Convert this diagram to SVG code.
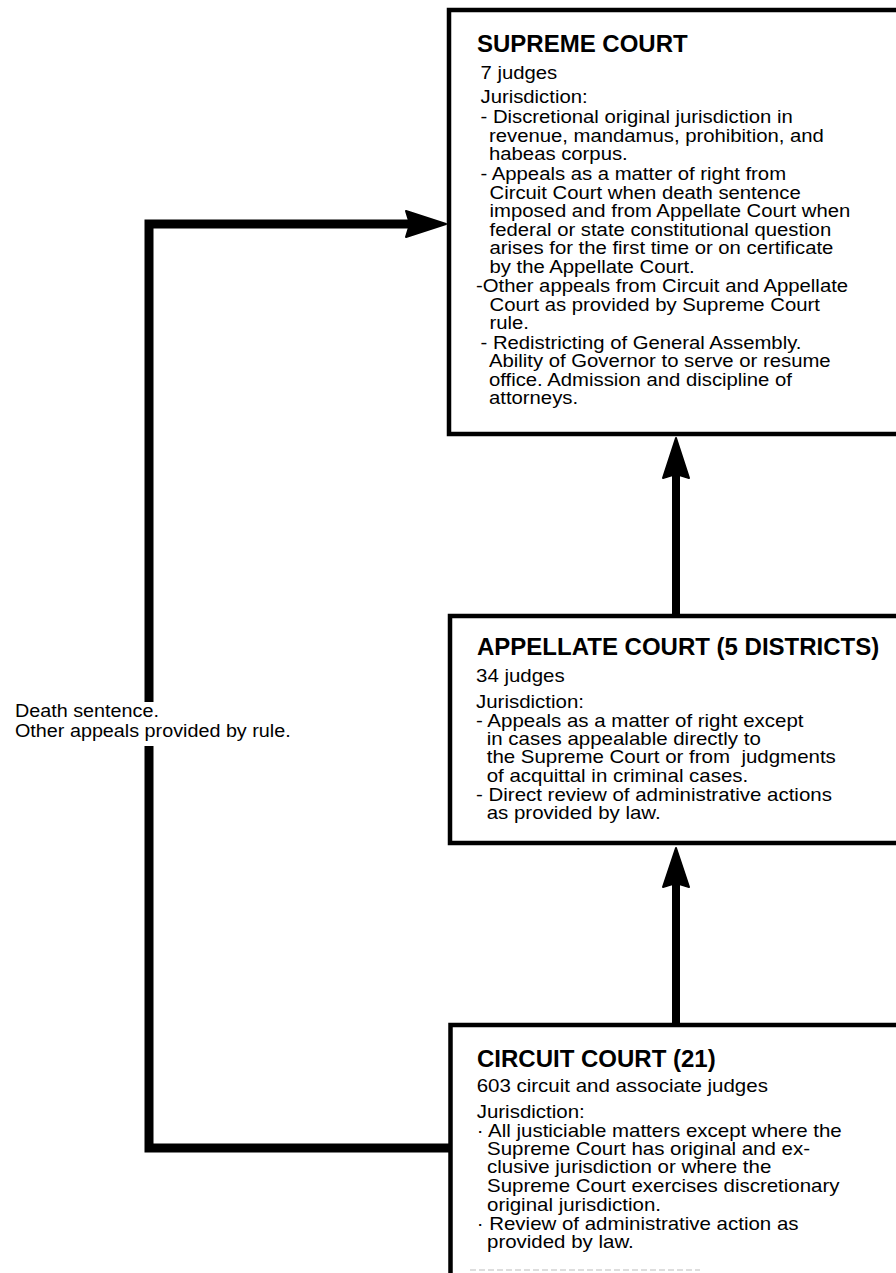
<svg xmlns="http://www.w3.org/2000/svg" width="896" height="1273" viewBox="0 0 896 1273">
<style>
.box{fill:#fff;stroke:#000;stroke-width:4.5}
.ttl{font-family:"Liberation Sans",Arial,sans-serif;font-weight:bold;font-size:24px;fill:#000}
.t{font-family:"Liberation Sans",Arial,sans-serif;font-size:17.5px;fill:#000}
.conn{fill:none;stroke:#000;stroke-width:9;stroke-linejoin:miter}
.shaft{fill:none;stroke:#000;stroke-width:8}
.head{fill:#000;stroke:#000;stroke-width:2;stroke-linejoin:round}
</style>
<rect width="896" height="1273" fill="#fff"/>
<g id="connectors">
  <path class="conn" d="M451 1148 H149 V746"/>
  <path class="conn" d="M149 702 V224 H412"/>
  <polygon class="head" points="406,211 446,224 406,237 410,224"/>
  <line class="shaft" x1="676" y1="614" x2="676" y2="472"/>
  <polygon class="head" points="676,438 689,478 676,474 663,478"/>
  <line class="shaft" x1="676" y1="1023" x2="676" y2="882"/>
  <polygon class="head" points="676,848 689,887 676,883 663,887"/>
</g>
<g id="label">
  <text class="t" transform="translate(15 717.3) scale(1.13 1)">Death sentence.</text>
  <text class="t" transform="translate(15 736.7) scale(1.13 1)">Other appeals provided by rule.</text>
</g>
<g id="supreme">
  <rect class="box" x="449" y="10" width="470" height="424"/>
  <text class="ttl" x="477" y="52">SUPREME COURT</text>
  <text class="t" transform="translate(480.5 79) scale(1.16 1)">7 judges</text>
  <text class="t" transform="translate(480.5 103) scale(1.16 1)">Jurisdiction:</text>
  <text class="t" transform="translate(480.5 123) scale(1.16 1)">- Discretional original jurisdiction in</text>
  <text class="t" transform="translate(489 141.7) scale(1.16 1)">revenue, mandamus, prohibition, and</text>
  <text class="t" transform="translate(489 160) scale(1.16 1)">habeas corpus.</text>
  <text class="t" transform="translate(480.5 180) scale(1.16 1)">- Appeals as a matter of right from</text>
  <text class="t" transform="translate(489.5 199) scale(1.16 1)">Circuit Court when death sentence</text>
  <text class="t" transform="translate(489.5 217.3) scale(1.16 1)">imposed and from Appellate Court when</text>
  <text class="t" transform="translate(489.5 235.7) scale(1.16 1)">federal or state constitutional question</text>
  <text class="t" transform="translate(489.5 254.3) scale(1.16 1)">arises for the first time or on certificate</text>
  <text class="t" transform="translate(489.5 272.7) scale(1.16 1)">by the Appellate Court.</text>
  <text class="t" transform="translate(476 291.7) scale(1.16 1)">-Other appeals from Circuit and Appellate</text>
  <text class="t" transform="translate(489.5 310.7) scale(1.16 1)">Court as provided by Supreme Court</text>
  <text class="t" transform="translate(489.5 329) scale(1.16 1)">rule.</text>
  <text class="t" transform="translate(480.5 349) scale(1.16 1)">- Redistricting of General Assembly.</text>
  <text class="t" transform="translate(489 367.3) scale(1.16 1)">Ability of Governor to serve or resume</text>
  <text class="t" transform="translate(489 385.7) scale(1.16 1)">office. Admission and discipline of</text>
  <text class="t" transform="translate(489 404.3) scale(1.16 1)">attorneys.</text>
</g>
<g id="appellate">
  <rect class="box" x="450" y="616" width="470" height="227"/>
  <text class="ttl" x="477" y="655">APPELLATE COURT (5 DISTRICTS)</text>
  <text class="t" transform="translate(476 681.7) scale(1.17 1)">34 judges</text>
  <text class="t" transform="translate(476 708.3) scale(1.17 1)">Jurisdiction:</text>
  <text class="t" transform="translate(476 726.7) scale(1.17 1)">- Appeals as a matter of right except</text>
  <text class="t" transform="translate(486.7 745) scale(1.17 1)">in cases appealable directly to</text>
  <text class="t" transform="translate(486.7 763.3) scale(1.17 1)" style="white-space:pre">the Supreme Court or from  judgments</text>
  <text class="t" transform="translate(486.7 781.7) scale(1.17 1)">of acquittal in criminal cases.</text>
  <text class="t" transform="translate(476 800.7) scale(1.17 1)">- Direct review of administrative actions</text>
  <text class="t" transform="translate(486.7 819) scale(1.17 1)">as provided by law.</text>
</g>
<g id="circuit">
  <rect class="box" x="450.5" y="1025" width="470" height="280"/>
  <line x1="470" y1="1270" x2="700" y2="1270" stroke="#bbb" stroke-width="1" stroke-dasharray="6 3"/>
  <text class="ttl" x="477" y="1067">CIRCUIT COURT (21)</text>
  <text class="t" transform="translate(476.7 1091.7) scale(1.17 1)">603 circuit and associate judges</text>
  <text class="t" transform="translate(476.7 1118.3) scale(1.17 1)">Jurisdiction:</text>
  <text class="t" transform="translate(476.7 1136.7) scale(1.17 1)">· All justiciable matters except where the</text>
  <text class="t" transform="translate(487 1155) scale(1.17 1)">Supreme Court has original and ex-</text>
  <text class="t" transform="translate(487 1173.3) scale(1.17 1)">clusive jurisdiction or where the</text>
  <text class="t" transform="translate(487 1192.3) scale(1.17 1)">Supreme Court exercises discretionary</text>
  <text class="t" transform="translate(487 1210.7) scale(1.17 1)">original jurisdiction.</text>
  <text class="t" transform="translate(476.7 1230) scale(1.17 1)">· Review of administrative action as</text>
  <text class="t" transform="translate(487 1248.3) scale(1.17 1)">provided by law.</text>
</g>
</svg>
